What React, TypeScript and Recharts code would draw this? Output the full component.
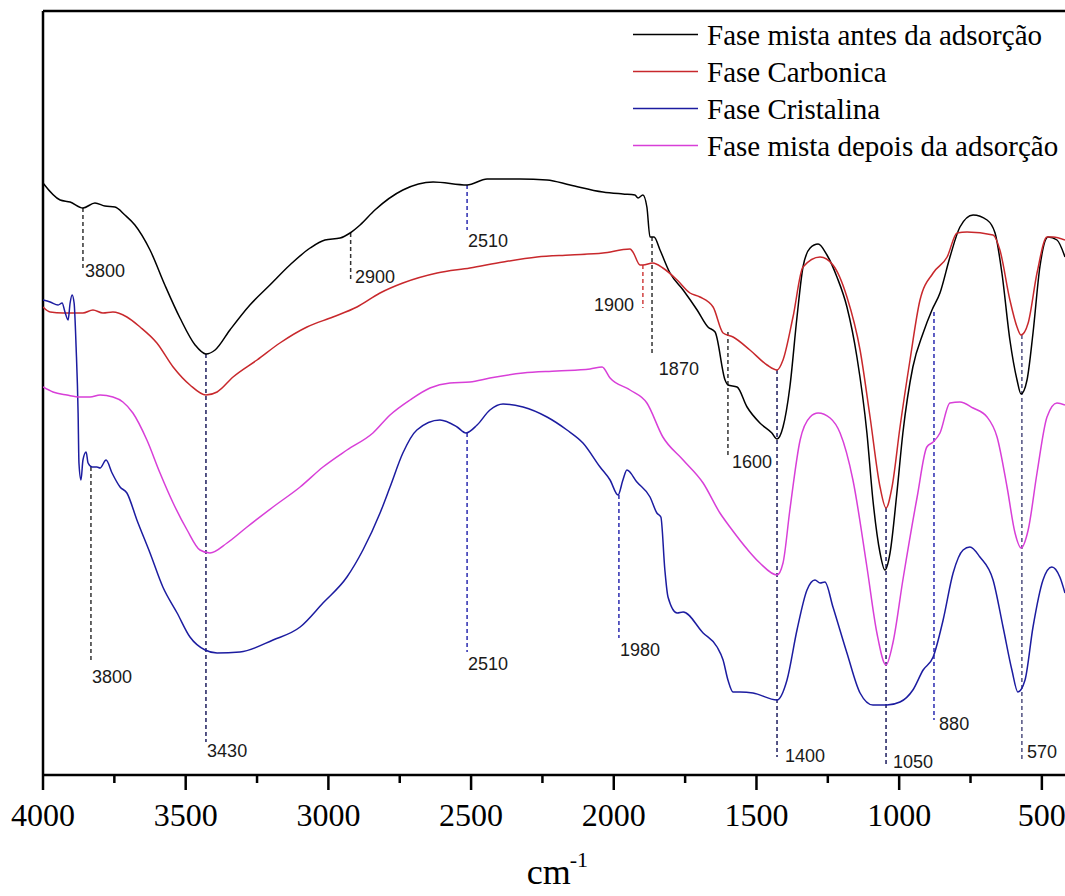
import { LineChart, Line, XAxis, YAxis, ReferenceLine, ReferenceDot, Legend } from 'recharts';

// FTIR spectra, transmittance in arbitrary units (offset stack)
const blackWn = [4000, 3940, 3905, 3860, 3818, 3783, 3748, 3713, 3678, 3625, 3573, 3520, 3467, 3429, 3397, 3345, 3275, 3205, 3135, 3064, 3012, 2959, 2924, 2889, 2837, 2739, 2633, 2514, 2444, 2329, 2234, 2153, 2038, 1968, 1926, 1915, 1898, 1884, 1873, 1859, 1838, 1803, 1757, 1708, 1670, 1645, 1610, 1600, 1568, 1533, 1488, 1446, 1428, 1407, 1383, 1358, 1337, 1312, 1284, 1253, 1218, 1183, 1148, 1113, 1092, 1067, 1050, 1032, 1008, 987, 952, 916, 885, 857, 822, 787, 741, 692, 664, 640, 612, 587, 573, 552, 531, 507, 478, 447, 419];
const blackT = [590, 573, 571, 565, 570, 567, 566, 558, 548, 523, 488, 455, 428, 419, 423, 443, 468, 488, 508, 525, 533, 535, 540, 548, 563, 583, 591, 588, 594, 594, 593, 588, 581, 579, 578, 575, 578, 566, 536, 536, 523, 500, 483, 463, 446, 441, 393, 388, 386, 366, 350, 340, 334, 346, 386, 456, 506, 525, 529, 518, 496, 466, 416, 340, 273, 220, 203, 220, 280, 340, 406, 440, 463, 480, 516, 546, 558, 553, 540, 500, 433, 393, 379, 393, 440, 506, 536, 533, 516];

const redWn = [4000, 3975, 3930, 3895, 3860, 3825, 3790, 3755, 3706, 3660, 3601, 3544, 3485, 3429, 3390, 3334, 3250, 3170, 3075, 2984, 2900, 2819, 2739, 2619, 2504, 2388, 2269, 2153, 2038, 1943, 1933, 1908, 1898, 1863, 1828, 1778, 1733, 1698, 1652, 1617, 1582, 1523, 1463, 1428, 1407, 1372, 1337, 1277, 1232, 1183, 1137, 1102, 1067, 1046, 1025, 997, 962, 927, 881, 832, 797, 762, 671, 647, 612, 587, 573, 548, 517, 482, 461, 419];
const redT = [466, 461, 460, 460, 460, 463, 460, 461, 456, 446, 430, 406, 388, 378, 381, 396, 413, 430, 446, 456, 466, 480, 490, 500, 505, 511, 516, 518, 520, 524, 521, 508, 508, 510, 505, 493, 480, 476, 466, 440, 436, 423, 408, 403, 413, 456, 506, 516, 508, 476, 423, 356, 286, 265, 286, 346, 413, 473, 500, 516, 540, 541, 538, 523, 473, 446, 438, 450, 500, 536, 536, 533];

const blueWn = [4000, 3975, 3947, 3933, 3923, 3912, 3905, 3898, 3891, 3884, 3877, 3874, 3867, 3860, 3849, 3842, 3828, 3811, 3800, 3779, 3758, 3730, 3706, 3671, 3625, 3580, 3530, 3485, 3432, 3390, 3310, 3194, 3099, 3019, 2935, 2879, 2819, 2784, 2739, 2690, 2609, 2549, 2518, 2479, 2434, 2388, 2318, 2234, 2164, 2108, 2048, 2013, 1985, 1968, 1954, 1919, 1873, 1849, 1835, 1821, 1810, 1778, 1757, 1687, 1638, 1617, 1600, 1582, 1558, 1512, 1428, 1393, 1358, 1323, 1295, 1277, 1260, 1232, 1183, 1137, 1092, 1043, 997, 952, 916, 881, 846, 811, 776, 752, 717, 671, 636, 605, 584, 559, 531, 496, 465, 437, 419];
const blueT = [473, 471, 468, 470, 461, 453, 470, 478, 470, 426, 360, 310, 293, 313, 321, 310, 306, 306, 305, 313, 300, 286, 280, 253, 220, 186, 160, 136, 123, 120, 121, 133, 146, 170, 196, 223, 260, 286, 320, 343, 353, 346, 340, 348, 363, 369, 366, 356, 343, 330, 306, 293, 278, 293, 303, 291, 276, 260, 256, 203, 176, 160, 161, 140, 126, 113, 93, 81, 81, 80, 73, 93, 143, 183, 193, 190, 191, 166, 120, 80, 68, 68, 71, 83, 103, 116, 153, 200, 223, 226, 216, 193, 146, 103, 81, 93, 146, 193, 206, 196, 180];

const magentaWn = [4000, 3965, 3916, 3870, 3835, 3800, 3755, 3720, 3685, 3636, 3590, 3544, 3495, 3450, 3415, 3355, 3285, 3194, 3099, 3019, 2935, 2844, 2784, 2714, 2644, 2574, 2504, 2434, 2318, 2199, 2083, 2041, 2013, 1943, 1884, 1828, 1757, 1687, 1628, 1593, 1530, 1488, 1428, 1407, 1383, 1347, 1312, 1284, 1242, 1207, 1162, 1113, 1078, 1046, 1022, 987, 937, 903, 881, 857, 822, 787, 741, 692, 657, 622, 594, 573, 548, 517, 482, 447, 419];
const magentaT = [386, 381, 378, 376, 376, 378, 376, 371, 360, 333, 300, 270, 243, 223, 220, 230, 246, 266, 286, 306, 323, 340, 358, 373, 385, 390, 391, 395, 400, 402, 404, 406, 395, 383, 370, 336, 313, 290, 260, 246, 223, 210, 198, 210, 263, 333, 356, 360, 355, 340, 293, 206, 140, 108, 130, 193, 276, 326, 331, 340, 370, 371, 365, 356, 336, 286, 240, 225, 243, 300, 356, 370, 368];

const seriesNames = [
  'Fase mista antes da adsorção',
  'Fase Carbonica',
  'Fase Cristalina',
  'Fase mista depois da adsorção',
];

const xTicks = [4000, 3750, 3500, 3250, 3000, 2750, 2500, 2250, 2000, 1750, 1500, 1250, 1000, 750, 500];

// marked bands: dashed drop line from curve down to its label
const peakLabels = ['3800', '2900', '2510', '1900', '1870', '1600', '3430', '3800', '2510', '1980', '1400', '1050', '880', '570'];
const peakWn = [3860, 2922, 2514, 1898, 1866, 1600, 3429, 3832, 2514, 1982, 1428, 1046, 878, 570];
const peakTop = [565, 540, 588, 508, 536, 441, 419, 306, 340, 278, 403, 265, 461, 438];
const peakBottom = [502, 491, 543, 465, 420, 316, 31, 112, 121, 135, 16, 6, 53, 13];
const labelWn = [3853, 2907, 2511, 1929, 1842, 1586, 3425, 3828, 2511, 1978, 1400, 1022, 860, 552];
const labelT = [496, 490, 526, 462, 398, 305, 16, 90, 103, 117, 11, 5, 43, 15];

const toPoints = (wn: number[], t: number[]) => wn.map((w, i) => ({ wn: w, t: t[i] }));

const colors = ['#000000', '#c8282c', '#1c1ca0', '#d83fd8'];
const seriesData = [
  toPoints(blackWn, blackT),
  toPoints(redWn, redT),
  toPoints(blueWn, blueT),
  toPoints(magentaWn, magentaT),
];

const GRAY = '#333333';
const BLUE = '#2b2bb0';
const NAVY = '#1d1d5e';
const peakStroke = [GRAY, GRAY, BLUE, '#d04040', GRAY, GRAY, NAVY, GRAY, BLUE, BLUE, NAVY, NAVY, BLUE, '#505080'];

const SERIF = '"Liberation Serif", "Times New Roman", serif';
const SANS = '"Liberation Sans", Arial, sans-serif';

function WnTick({ x, y, payload }: any) {
  const major = payload.value % 500 === 0;
  return (
    <g>
      <line x1={x} x2={x} y1={y} y2={y + (major ? 15 : 8)} stroke="#000" strokeWidth={2.5} />
      {major && (
        <text x={x} y={y + 51} textAnchor="middle" fontFamily={SERIF} fontSize={32} fill="#000">
          {payload.value}
        </text>
      )}
    </g>
  );
}

function UnitLabel({ viewBox }: any) {
  const cx = viewBox.x + viewBox.width / 2;
  return (
    <g>
      <text x={cx - 30} y={884} fontFamily={SERIF} fontSize={36} fill="#000">cm</text>
      <text x={cx + 13} y={867} fontFamily={SERIF} fontSize={22} fill="#000">-1</text>
    </g>
  );
}

// fixed legend order (same as the series), drawn at the top right
function LegendBox() {
  return (
    <svg width={1100} height={170} style={{ display: 'block' }}>
      {seriesNames.map((name, i) => (
        <g key={name}>
          <line x1={633} x2={698} y1={34.5 + i * 37} y2={34.5 + i * 37} stroke={colors[i]} strokeWidth={1.5} />
          <text x={707} y={45 + i * 37} fontFamily={SERIF} fontSize={29} fill="#000">
            {name}
          </text>
        </g>
      ))}
    </svg>
  );
}

export default function App() {
  return (
    <div style={{ position: 'absolute', left: 0, top: 0, width: 1065, height: 896, overflow: 'hidden', background: '#fff' }}>
      <LineChart width={1100} height={896} margin={{ top: 11, right: 29.6, left: 43, bottom: 71 }}>
        <XAxis
          type="number"
          dataKey="wn"
          domain={[400, 4000]}
          reversed
          allowDataOverflow
          ticks={xTicks}
          interval={0}
          tickLine={false}
          tickSize={0}
          tickMargin={0}
          axisLine={{ stroke: '#000', strokeWidth: 2.5 }}
          tick={<WnTick />}
          height={50}
          label={{ content: <UnitLabel /> }}
        />
        <YAxis type="number" domain={[-2, 762]} hide allowDataOverflow />
        <ReferenceLine y={762} stroke="#000" strokeWidth={2.5} />
        <ReferenceLine x={4000} stroke="#000" strokeWidth={2.5} />

        {peakWn.map((w, i) => (
          <ReferenceLine
            key={`pl${i}`}
            segment={[{ x: w, y: peakTop[i] }, { x: w, y: peakBottom[i] }]}
            stroke={peakStroke[i]}
            strokeWidth={1.5}
            strokeDasharray="4 3"
          />
        ))}
        {labelWn.map((w, i) => (
          <ReferenceDot
            key={`lb${i}`}
            x={w}
            y={labelT[i]}
            r={1}
            shape={(p: any) => (
              <text
                x={p.cx}
                y={p.cy}
                textAnchor={peakLabels[i] === '1900' ? 'end' : 'start'}
                fontFamily={SANS}
                fontSize={18}
                fill="#1a1a1a"
              >
                {peakLabels[i]}
              </text>
            )}
          />
        ))}

        {seriesData.map((d, i) => (
          <Line
            key={seriesNames[i]}
            data={d}
            dataKey="t"
            name={seriesNames[i]}
            type="monotone"
            stroke={colors[i]}
            strokeWidth={1.5}
            dot={false}
            activeDot={false}
            isAnimationActive={false}
          />
        ))}

        <Legend
          layout="vertical"
          align="center"
          verticalAlign="middle"
          width={1100}
          height={170}
          wrapperStyle={{ left: 0, top: 0 }}
          content={<LegendBox />}
        />
      </LineChart>
    </div>
  );
}
